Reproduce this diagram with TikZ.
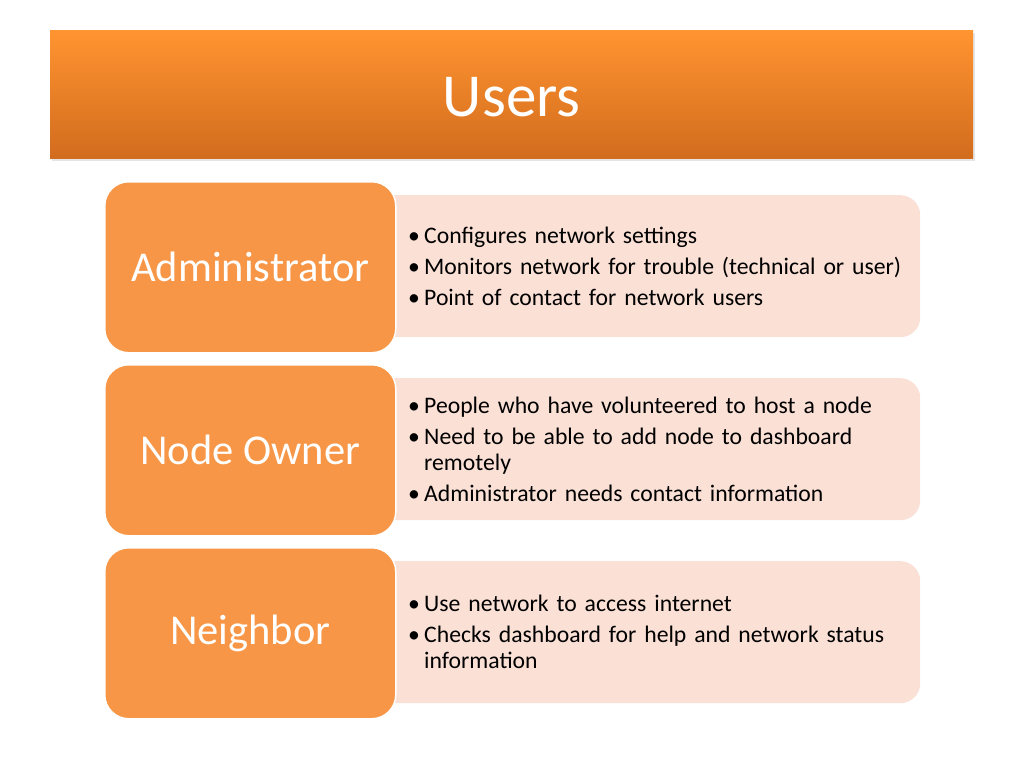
\documentclass[tikz,border=0pt]{standalone}
\usepackage{fontspec}
\setmainfont{Carlito}
\definecolor{barTop}{RGB}{255,148,48}
\definecolor{barBot}{RGB}{210,108,30}
\definecolor{roleOrange}{RGB}{247,150,70}
\definecolor{notePink}{RGB}{251,224,213}
\hyphenpenalty=10000
\exhyphenpenalty=10000
\newcommand{\bul}[1]{\hangindent=16pt\hangafter=1\makebox[16pt][l]{\textbullet}#1\par}
\tikzset{
  rolebox/.style={draw=white, line width=1.5pt, fill=roleOrange, rounded corners=24pt,
    minimum width=291pt, minimum height=171pt, text=white, font=\fontsize{42.5}{46}\selectfont, anchor=north west},
  notebox/.style={fill=notePink, rounded corners=20pt, minimum width=620pt, minimum height=142pt, anchor=north west},
  notetext/.style={text width=500pt, align=left, anchor=west, inner sep=0pt,
    font=\fontsize{23.7}{26}\selectfont\setlength{\parskip}{5pt}}
}
\begin{document}
\begin{tikzpicture}[x=1pt, y=-1pt]
\useasboundingbox[fill=white](0,0) rectangle (1024,768);

\fill[black, opacity=.1](52,33) rectangle (975,161);
\node[shade, top color=barTop, bottom color=barBot, minimum width=923pt, minimum height=128pt,
  anchor=north west, inner sep=0pt] (bar) at (50,30){};
\node[text=white, font=\fontsize{61}{64}\selectfont] (title) at ([yshift=-3pt]bar.center){Users};

% rows
\node[notebox] (n1) at (300,195){};
\node[rolebox] (r1) at (104,181){Administrator};
\node[notetext] (t1) at (408,266){\bul{Configures network settings}\bul{Monitors network for trouble (technical or user)}\bul{Point of contact for network users}};

\node[notebox] (n2) at (300,378){};
\node[rolebox] (r2) at (104,364){Node Owner};
\node[notetext] (t2) at (408,449){\bul{People who have volunteered to host a node}\bul{Need to be able to add node to dashboard remotely}\bul{Administrator needs contact information}};

\node[notebox] (n3) at (300,561){};
\node[rolebox] (r3) at (104,547){Neighbor};
\node[notetext] (t3) at (408,632){\bul{Use network to access internet}\bul{Checks dashboard for help and network status information}};

\end{tikzpicture}
\end{document}
